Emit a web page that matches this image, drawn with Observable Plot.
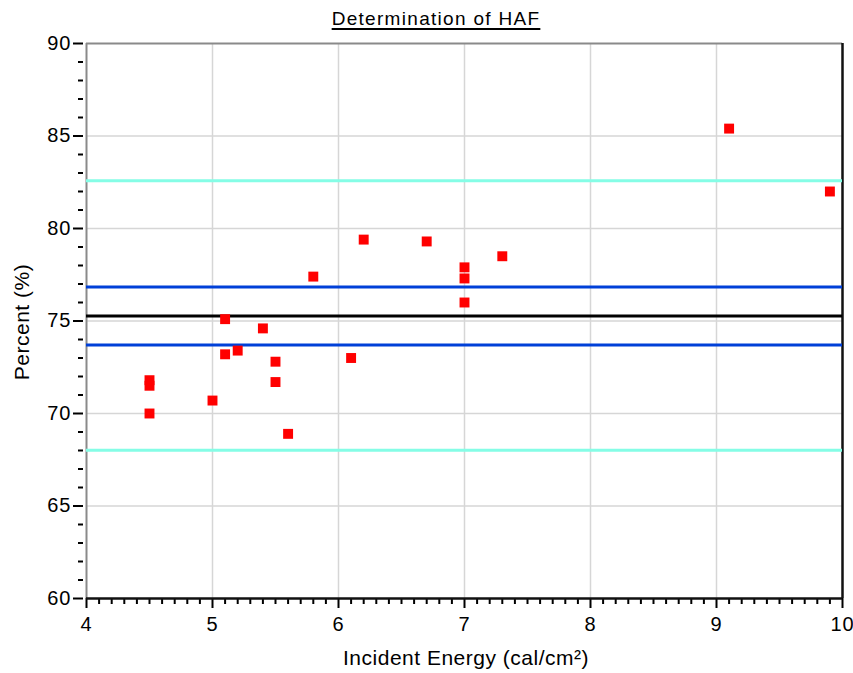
<!DOCTYPE html>
<html>
<head>
<meta charset="utf-8">
<script src="https://cdn.jsdelivr.net/npm/d3@7"></script>
<script src="https://cdn.jsdelivr.net/npm/@observablehq/plot@0.6"></script>
<style>
  html, body { margin: 0; padding: 0; background: white; }
  #wrap { position: relative; width: 853px; height: 673px; font-family: "Liberation Sans", Arial, sans-serif; color: #000; }
  #title { position: absolute; left: 0; width: 872px; top: 8px; text-align: center; font-size: 19px; letter-spacing: 1.3px; text-decoration: underline; text-decoration-thickness: 2px; text-underline-offset: 3px; }
  #xlabel { position: absolute; left: 0; width: 932px; top: 646px; text-align: center; font-size: 21px; letter-spacing: 0.5px; }
  #ylabel { position: absolute; left: 22px; top: 322px; font-size: 21px; letter-spacing: 0.5px; white-space: nowrap; transform: translate(-50%, -50%) rotate(-90deg); }
  #chart { position: absolute; left: 0; top: 0; }
  #chart svg text { font-size: 20px !important; letter-spacing: 1px; }
</style>
</head>
<body>
<div id="wrap">
  <div id="chart"></div>
  <div id="title">Determination of HAF</div>
  <div id="xlabel">Incident Energy (cal/cm²)</div>
  <div id="ylabel">Percent (%)</div>
</div>
<script>
// Data
const energy  = [4.5, 4.5, 4.5, 5.0, 5.1, 5.1, 5.2, 5.4, 5.5, 5.5, 5.6, 5.8, 6.1, 6.2, 6.7, 7.0, 7.0, 7.0, 7.3, 9.1, 9.9];
const percent = [71.8, 71.5, 70.0, 70.7, 75.1, 73.2, 73.4, 74.6, 72.8, 71.7, 68.9, 77.4, 73.0, 79.4, 79.3, 77.9, 77.3, 76.0, 78.5, 85.4, 82.0];
const meanLine = [75.27];
const innerLimits = [73.70, 76.84];
const outerLimits = [68.02, 82.58];

const xMajorTicks = [4, 5, 6, 7, 8, 9, 10];
const yMajorTicks = [60, 65, 70, 75, 80, 85, 90];
const xMinorTicks = d3.range(40, 101).filter(v => v % 10 !== 0).map(v => v / 10);
const yMinorTicks = d3.range(60, 91).filter(v => v % 5 !== 0);

const points = energy.map((e, i) => ({energy: e, percent: percent[i]}));

const font = "'Liberation Sans', Arial, sans-serif";
const chart = Plot.plot({
  width: 853,
  height: 673,
  marginLeft: 86,
  marginRight: 11,
  marginTop: 43,
  marginBottom: 75,
  x: {domain: [4, 10]},
  y: {domain: [60, 90]},
  style: {fontFamily: font, fontSize: "20px", background: "white", color: "black", overflow: "visible"},
  marks: [
    Plot.gridX({ticks: xMajorTicks.slice(1, -1), stroke: "#d6d6d6", strokeOpacity: 1, strokeWidth: 1.5}),
    Plot.gridY({ticks: yMajorTicks.slice(1, -1), stroke: "#d6d6d6", strokeOpacity: 1, strokeWidth: 1.5}),
    Plot.axisY({ticks: yMinorTicks, tickSize: 5, dx: -3, text: null, label: null, strokeWidth: 2}),
    Plot.axisY({ticks: yMajorTicks, tickSize: 10, dx: -3, tickPadding: 2, label: null, tickFormat: d => String(d), strokeWidth: 2, fontSize: 20}),
    Plot.axisX({ticks: xMinorTicks, tickSize: 6, text: null, label: null, strokeWidth: 2}),
    Plot.axisX({ticks: xMajorTicks, tickSize: 10, tickPadding: 8, label: null, tickFormat: d => String(d), strokeWidth: 2, fontSize: 20}),
    Plot.ruleY([90], {stroke: "#8a8a8a", strokeWidth: 2}),
    Plot.ruleX([4], {stroke: "#8a8a8a", strokeWidth: 2}),
    Plot.ruleX([10], {stroke: "#111", strokeWidth: 2.5}),
    Plot.ruleY([60], {stroke: "#111", strokeWidth: 2.5}),
    Plot.ruleY(outerLimits, {stroke: "#85fde6", strokeWidth: 3}),
    Plot.ruleY(innerLimits, {stroke: "#0040d8", strokeWidth: 3}),
    Plot.ruleY(meanLine, {stroke: "#000", strokeWidth: 3}),
    Plot.dot(points, {x: "energy", y: "percent", symbol: "square", r: 5.6, fill: "#ff0000", stroke: null})
  ]
});
document.getElementById("chart").appendChild(chart);
</script>
</body>
</html>
